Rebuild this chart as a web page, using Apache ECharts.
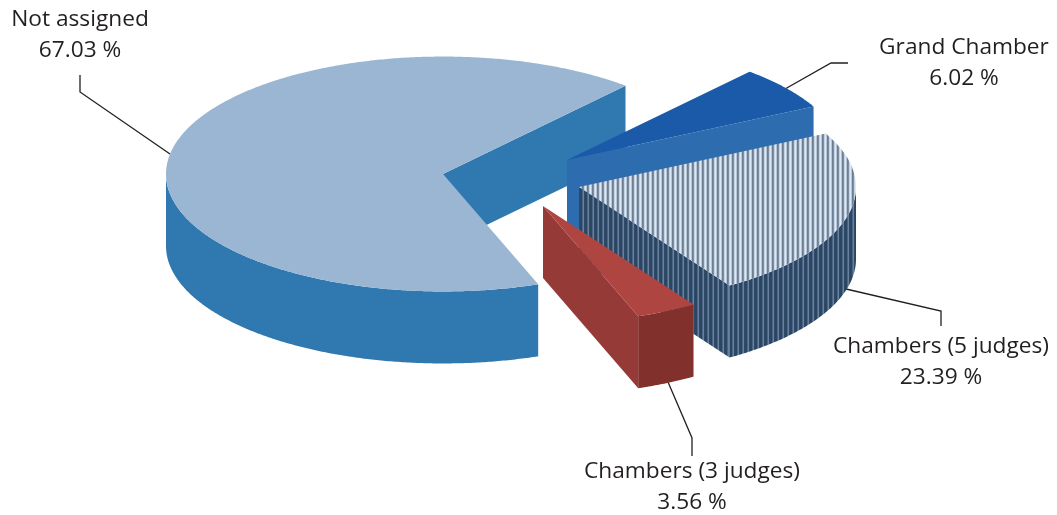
<!DOCTYPE html>
<html>
<head>
<meta charset="utf-8">
<style>
  html, body { margin: 0; padding: 0; background: #fff; }
  #chart { width: 1057px; height: 515px; }
</style>
<script src="https://cdn.jsdelivr.net/npm/echarts@6/dist/echarts.min.js"></script>
</head>
<body>
<div id="chart"></div>
<script>
// values
const categories = ["Not assigned", "Grand Chamber", "Chambers (5 judges)", "Chambers (3 judges)"];
const shares = [67.03, 6.02, 23.39, 3.56];

// pie shape
const startAngle = 69.9;
const radius = 277;
const squash = 0.424;
const depth = 72;
const apexes = [[443, 174], [567, 160], [579, 187], [543, 206]];

// leader lines and label centres, same order as categories
const leaders = [
  [[80, 75], [80, 92], [170, 154]],
  [[785, 89], [831, 63], [848, 63]],
  [[846, 289], [941, 311], [941, 326]],
  [[668, 382], [692, 438], [692, 456]],
];
const labelPos = [[80, 20], [964, 48], [941, 347], [692, 472]];

// one colour per pixel column
function stripes(cols) {
  const c = document.createElement("canvas");
  c.width = cols.length;
  c.height = 4;
  const ctx = c.getContext("2d");
  cols.forEach((col, x) => {
    ctx.fillStyle = col;
    ctx.fillRect(x, 0, 1, 4);
  });
  return { image: c, repeat: "repeat" };
}

const hatchTop = stripes(["#dce9f5", "#b6c6d8", "#6d7e92", "#7e8ea2", "#c4d3e2"]);
const hatchSide = stripes(["#2a4662", "#2a4662", "#4c6584", "#6a819e", "#2f4a68"]);

const fills = [
  { top: "#9ab6d3", cut: "#2f78b0", rim: "#2f78b0" },
  { top: "#1a5aa8", cut: "#2e6cb0", rim: "#2e6cb0" },
  { top: hatchTop, cut: hatchSide, rim: hatchSide },
  { top: "#ae4541", cut: "#963a38", rim: "#82302c" },
];

// cumulative angles, every slice starts where the last one ended
const angles = [];
shares.reduce((from, v) => {
  const to = from + (v / 100) * 360;
  angles.push([from, to]);
  return to;
}, startAngle);

function rimPoint(apex, deg, drop) {
  const t = (deg * Math.PI) / 180;
  return [
    apex[0] + radius * Math.cos(t),
    apex[1] + radius * squash * Math.sin(t) + (drop || 0),
  ];
}

function poly(points, fill) {
  return { type: "polygon", shape: { points }, style: { fill, stroke: null } };
}

function renderSlice(params) {
  const i = params.dataIndex;
  const apex = apexes[i];
  const [from, to] = angles[i];
  const f = fills[i];
  const children = [];

  // cut face at the end of the slice
  const e = rimPoint(apex, to);
  const e2 = rimPoint(apex, to, depth);
  children.push(poly([apex, e, e2, [apex[0], apex[1] + depth]], f.cut));

  // arc steps, always ending exactly on the slice edge
  const steps = [];
  for (let a = from; a < to; a += 0.5) steps.push(a);
  steps.push(to);

  // outer wall, only the front half of the ellipse shows
  const front = steps.filter((d) => Math.sin((d * Math.PI) / 180) >= 0);
  if (front.length > 1) {
    const upper = front.map((d) => rimPoint(apex, d));
    const lower = front.map((d) => rimPoint(apex, d, depth)).reverse();
    children.push(poly(upper.concat(lower), f.rim));
  }

  // top face
  children.push(poly([apex].concat(steps.map((d) => rimPoint(apex, d))), f.top));

  return { type: "group", children };
}

const textStyle = {
  fill: "#231f20",
  font: '22.7px "Open Sans"',
  textAlign: "center",
  textVerticalAlign: "middle",
};

const graphic = [];
categories.forEach((name, i) => {
  graphic.push({
    type: "polyline",
    shape: { points: leaders[i] },
    style: { stroke: "#231f20", lineWidth: 1.3, fill: null },
    silent: true,
  });
  graphic.push({
    type: "text",
    x: labelPos[i][0],
    y: labelPos[i][1],
    style: { ...textStyle, text: name },
    silent: true,
  });
  graphic.push({
    type: "text",
    x: labelPos[i][0],
    y: labelPos[i][1] + 31,
    style: { ...textStyle, text: shares[i].toFixed(2) + " %" },
    silent: true,
  });
});

const chart = echarts.init(document.getElementById("chart"), null, { renderer: "canvas" });
chart.setOption({
  animation: false,
  backgroundColor: "#fff",
  graphic,
  series: [
    {
      type: "custom",
      coordinateSystem: "none",
      silent: true,
      clip: false,
      data: categories.map((name, i) => ({ name, value: [i, shares[i]] })),
      renderItem: renderSlice,
    },
  ],
});
</script>
</body>
</html>
